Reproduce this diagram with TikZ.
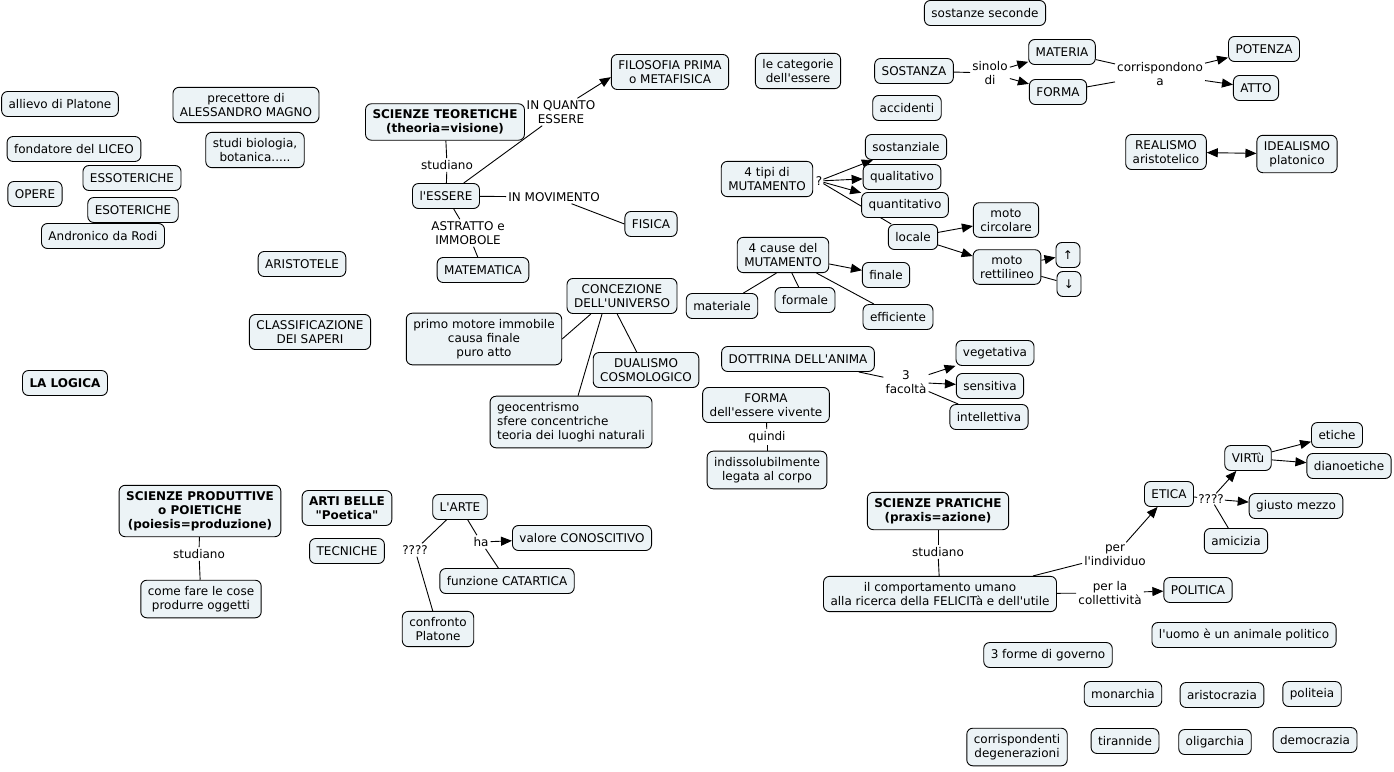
\documentclass[tikz,border=0pt]{standalone}
\usepackage{fontspec}
\setmainfont{DejaVu Sans}[Ligatures=TeXOff]
\usepackage{xcolor}
\usetikzlibrary{arrows.meta}
\definecolor{boxfill}{RGB}{236, 243, 246}
\pgfdeclarelayer{background}
\pgfsetlayers{background,main}

\tikzset{
  cbox/.style={draw, fill=boxfill, rounded corners=6pt, line width=0.9pt,
    align=center, inner xsep=7pt, inner ysep=6pt, minimum height=25pt,
    font=\fontsize{12}{14}\selectfont},
  bbox/.style={cbox, font=\fontsize{12}{14}\selectfont\bfseries},
  lbl/.style={align=center, inner sep=2pt, font=\fontsize{12}{14}\selectfont},
  link/.style={line width=0.9pt},
  arr/.style={link, -{Triangle[length=11pt, width=9pt]}},
  arrboth/.style={link, {Triangle[length=11pt, width=9pt]}-{Triangle[length=11pt, width=9pt]}},
}

\begin{document}
\begin{tikzpicture}[x=1pt, y=-1pt]
  \useasboundingbox (0,0) rectangle (1394,771);

  % ── Aristotele: life and works ───────────────────────────────────────────
  \node[cbox] (allievo) at (60,104)  {allievo di Platone};
  \node[cbox] (precet)  at (246,105) {precettore di\\ALESSANDRO MAGNO};
  \node[cbox] (biolog)  at (255,150) {studi biologia,\\botanica.....};
  \node[cbox] (liceo)   at (74,149)  {fondatore del LICEO};
  \node[cbox] (essot)   at (132,178) {ESSOTERICHE};
  \node[cbox] (opere)   at (35,194)  {OPERE};
  \node[cbox] (esot)    at (133,210) {ESOTERICHE};
  \node[cbox] (andron)  at (103,236) {Andronico da Rodi};
  \node[cbox] (arist)   at (302,264) {ARISTOTELE};
  \node[cbox] (classif) at (310,332) {CLASSIFICAZIONE\\DEI SAPERI};
  \node[bbox] (logica)  at (65,383)  {LA LOGICA};

  % ── Scienze teoretiche ───────────────────────────────────────────────────
  \node[bbox] (teor)   at (445,122) {SCIENZE TEORETICHE\\(theoria=visione)};
  \node[lbl]  (stud1)  at (447,165) {studiano};
  \node[cbox] (essere) at (446,196) {l'ESSERE};
  \node[lbl]  (inq)    at (561,112) {IN QUANTO\\ESSERE};
  \node[cbox] (filo)   at (670,72)  {FILOSOFIA PRIMA\\o METAFISICA};
  \node[lbl]  (inmov)  at (554,197) {IN MOVIMENTO};
  \node[cbox] (fisica) at (651,224) {FISICA};
  \node[lbl]  (astr)   at (468,233) {ASTRATTO e\\IMMOBOLE};
  \node[cbox] (matem)  at (483,270) {MATEMATICA};

  % ── Categorie, sostanza ──────────────────────────────────────────────────
  \node[cbox] (secon)   at (985,13)   {sostanze seconde};
  \node[cbox] (categ)   at (798,71)   {le categorie\\dell'essere};
  \node[cbox] (sost)    at (914,71)   {SOSTANZA};
  \node[lbl]  (sinolo)  at (990,73)   {sinolo\\di};
  \node[cbox] (materia) at (1062,52)  {MATERIA};
  \node[cbox] (forma)   at (1058,92)  {FORMA};
  \node[lbl]  (corr)    at (1160,74)  {corrispondono\\a};
  \node[cbox] (potenza) at (1264,49)  {POTENZA};
  \node[cbox] (atto)    at (1256,88)  {ATTO};
  \node[cbox] (accid)   at (907,108)  {accidenti};
  \node[cbox] (realis)  at (1166,152) {REALISMO\\aristotelico};
  \node[cbox] (ideal)   at (1297,154) {IDEALISMO\\platonico};

  % ── Mutamento ────────────────────────────────────────────────────────────
  \node[cbox] (tipi)    at (767,179)  {4 tipi di\\MUTAMENTO};
  \node[lbl, inner sep=1pt] (qtipi) at (819,181) {?};
  \node[cbox] (sostz)   at (906,147)  {sostanziale};
  \node[cbox] (qualit)  at (902,177)  {qualitativo};
  \node[cbox] (quantit) at (905,205)  {quantitativo};
  \node[cbox] (locale)  at (913,237)  {locale};
  \node[cbox] (circ)    at (1006,220) {moto\\circolare};
  \node[cbox] (rett)    at (1007,267) {moto\\rettilineo};
  \node[cbox] (su)      at (1068,255) {↑};
  \node[cbox] (giu)     at (1069,284) {↓};
  \node[cbox] (cause)   at (783,255)  {4 cause del\\MUTAMENTO};
  \node[cbox] (finale)  at (886,275)  {finale};
  \node[cbox] (materiale) at (722,306) {materiale};
  \node[cbox] (formale) at (805,300)  {formale};
  \node[cbox] (effic)   at (898,317)  {efficiente};

  % ── Universo ─────────────────────────────────────────────────────────────
  \node[cbox] (conc)  at (622,296) {CONCEZIONE\\DELL'UNIVERSO};
  \node[cbox] (primo) at (484,339) {primo motore immobile\\causa finale\\puro atto};
  \node[cbox] (dual)  at (646,370) {DUALISMO\\COSMOLOGICO};
  \node[cbox, align=left] (geo) at (571,422)
    {geocentrismo\\sfere concentriche\\teoria dei luoghi naturali};

  % ── Anima ────────────────────────────────────────────────────────────────
  \node[cbox] (dottr)  at (798,359) {DOTTRINA DELL'ANIMA};
  \node[lbl]  (facol)  at (906,382) {3\\facoltà};
  \node[cbox] (veget)  at (995,353) {vegetativa};
  \node[cbox] (sensit) at (990,386) {sensitiva};
  \node[cbox] (intell) at (989,417) {intellettiva};
  \node[cbox] (formav) at (766,405) {FORMA\\dell'essere vivente};
  \node[lbl]  (quindi) at (767,437) {quindi};
  \node[cbox] (indiss) at (767,470) {indissolubilmente\\legata al corpo};

  % ── Scienze produttive ───────────────────────────────────────────────────
  \node[bbox] (prod)   at (200,511) {SCIENZE PRODUTTIVE\\o POIETICHE\\(poiesis=produzione)};
  \node[lbl]  (stud2)  at (199,554) {studiano};
  \node[cbox] (come)   at (201,599) {come fare le cose\\produrre oggetti};
  \node[bbox] (belle)  at (347,508) {ARTI BELLE\\"Poetica"};
  \node[cbox] (tecn)   at (347,551) {TECNICHE};
  \node[cbox] (arte)   at (460,507) {L'ARTE};
  \node[lbl]  (qarte)  at (415,550) {????};
  \node[cbox] (confr)  at (438,629) {confronto\\Platone};
  \node[lbl]  (ha)     at (481,542) {ha};
  \node[cbox] (valore) at (582,538) {valore CONOSCITIVO};
  \node[cbox] (catart) at (507,581) {funzione CATARTICA};

  % ── Scienze pratiche ─────────────────────────────────────────────────────
  \node[bbox] (prat)    at (938,511)  {SCIENZE PRATICHE\\(praxis=azione)};
  \node[lbl]  (stud3)   at (938,552)  {studiano};
  \node[cbox] (comp)    at (940,594)  {il comportamento umano\\alla ricerca della FELICITà e dell'utile};
  \node[lbl]  (indiv)   at (1115,555) {per\\l'individuo};
  \node[lbl]  (colle)   at (1110,593) {per la\\collettività};
  \node[cbox] (etica)   at (1169,494) {ETICA};
  \node[lbl, inner sep=1pt] (qetica) at (1211,499) {????};
  \node[cbox] (virtu)   at (1248,458) {VIRTù};
  \node[cbox] (etiche)  at (1337,435) {etiche};
  \node[cbox] (dianoe)  at (1349,466) {dianoetiche};
  \node[cbox] (giusto)  at (1296,506) {giusto mezzo};
  \node[cbox] (amic)    at (1236,541) {amicizia};
  \node[cbox] (polit)   at (1198,590) {POLITICA};
  \node[cbox] (animale) at (1244,635) {l'uomo è un animale politico};

  % ── Forme di governo ─────────────────────────────────────────────────────
  \node[cbox] (forme)    at (1048,655) {3 forme di governo};
  \node[cbox] (monarc)   at (1123,694) {monarchia};
  \node[cbox] (aristoc)  at (1222,695) {aristocrazia};
  \node[cbox] (politeia) at (1312,694) {politeia};
  \node[cbox] (degen)    at (1017,747) {corrispondenti\\degenerazioni};
  \node[cbox] (tiran)    at (1125,741) {tirannide};
  \node[cbox] (oligar)   at (1215,742) {oligarchia};
  \node[cbox] (democr)   at (1315,740) {democrazia};

  % ── Connectors (behind the boxes) ────────────────────────────────────────
  \begin{pgfonlayer}{background}
    \draw[link] (teor) -- (stud1);
    \draw[link] (stud1) -- (essere);
    \draw[link] (essere) -- (inq);
    \draw[arr]  (inq.40) -- (filo.185);
    \draw[link] (essere) -- (inmov);
    \draw[link] (inmov) -- (fisica.west);
    \draw[link] (essere) -- (astr);
    \draw[link] (astr) -- (matem);

    \draw[link] (sost) -- (sinolo);
    \draw[arr]  (sinolo) -- (materia);
    \draw[arr]  (sinolo) -- (forma);
    \draw[link] (materia) -- (corr);
    \draw[link] (forma) -- (corr);
    \draw[arr]  (corr) -- (potenza);
    \draw[arr]  (corr) -- (atto);
    \draw[arrboth] (realis) -- (ideal);

    \draw[arr]  (qtipi) -- (sostz);
    \draw[arr]  (qtipi) -- (qualit);
    \draw[arr]  (qtipi) -- (quantit);
    \draw[link] (qtipi) -- (locale);
    \draw[arr]  (locale) -- (circ);
    \draw[arr]  (locale) -- (rett);
    \draw[arr]  (rett) -- (su);
    \draw[link] (rett) -- (giu);

    \draw[arr]  (cause) -- (finale);
    \draw[link] (cause.250) -- (materiale);
    \draw[link] (cause) -- (formale);
    \draw[link] (cause) -- (effic);

    \draw[link] (conc.210) -- (primo.east);
    \draw[link] (conc.222) -- (geo.75);
    \draw[link] (conc.255) -- (dual);

    \draw[link] (dottr) -- (facol);
    \draw[arr]  (facol) -- (veget);
    \draw[arr]  (facol) -- (sensit);
    \draw[link] (facol) -- (intell);
    \draw[link] (formav) -- (quindi);
    \draw[link] (quindi) -- (indiss);

    \draw[link] (prod) -- (stud2);
    \draw[link] (stud2) -- (come);
    \draw[link] (arte) -- (qarte);
    \draw[link] (qarte) -- (confr);
    \draw[link] (arte) -- (ha);
    \draw[arr]  (ha) -- (valore);
    \draw[link] (ha) -- (catart);

    \draw[link] (prat) -- (stud3);
    \draw[link] (stud3) -- (comp);
    \draw[link] (comp.11) -- (indiv);
    \draw[arr]  (indiv) -- (etica);
    \draw[link] (comp) -- (colle);
    \draw[arr]  (colle) -- (polit);
    \draw[link] (etica) -- (qetica);
    \draw[arr]  (qetica) -- (virtu);
    \draw[arr]  (qetica) -- (giusto);
    \draw[link] (qetica) -- (amic);
    \draw[arr]  (virtu) -- (etiche);
    \draw[arr]  (virtu) -- (dianoe);
  \end{pgfonlayer}
\end{tikzpicture}
\end{document}
